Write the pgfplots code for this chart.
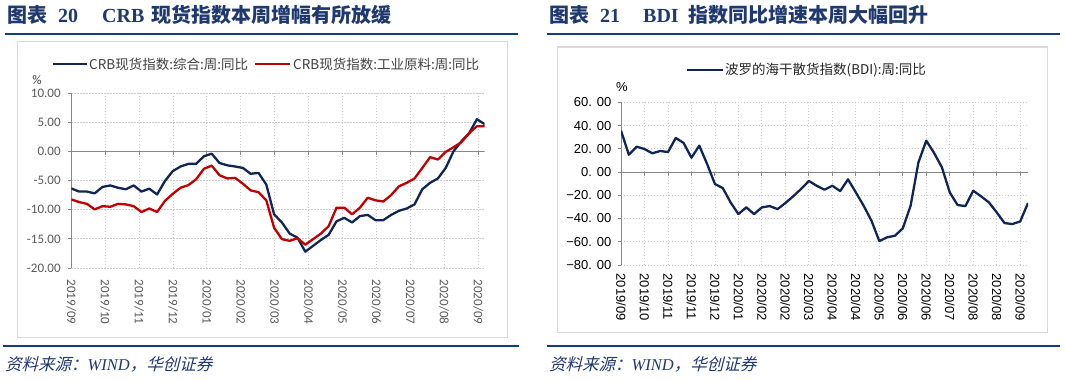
\documentclass[border=0pt]{standalone}
\usepackage{fontspec}
\usepackage{pgfplots}
\usepackage{pgfplotstable}
\pgfplotsset{compat=1.18}
\setmainfont{Liberation Sans}
\newfontfamily\cjk{Noto Sans CJK SC}
\newfontfamily\cjkit[FakeSlant=0.25]{Noto Sans CJK SC}
\newfontfamily\carlito{Carlito}
\newfontfamily\tnr{Liberation Serif}
\definecolor{navy}{RGB}{16,37,86}
\definecolor{crbred}{RGB}{192,0,0}
\definecolor{titleblue}{RGB}{31,56,110}
\definecolor{rulblue}{RGB}{20,60,130}
\definecolor{axisgray}{RGB}{134,134,134}
\definecolor{gridgray}{RGB}{205,205,205}
\definecolor{boxgray}{RGB}{217,217,217}
\definecolor{labgray}{RGB}{89,89,89}
\definecolor{leggray}{RGB}{64,64,64}

\pgfplotstableread{
x b r
0 -6.36 -8.24
1 -6.9 -8.7
2 -6.9 -9.0
3 -7.2 -9.95
4 -6.1 -9.4
5 -5.85 -9.5
6 -6.25 -9.0
7 -6.5 -9.1
8 -5.85 -9.4
9 -6.9 -10.4
10 -6.4 -9.8
11 -7.4 -10.4
12 -5.1 -8.5
13 -3.4 -7.3
14 -2.6 -6.25
15 -2.15 -5.8
16 -2.15 -4.8
17 -0.85 -3.0
18 -0.4 -2.45
19 -2.0 -4.1
20 -2.4 -4.65
21 -2.6 -4.55
22 -2.85 -5.55
23 -3.85 -6.7
24 -3.7 -7.0
25 -5.7 -8.4
26 -10.8 -13.1
27 -12.2 -15.05
28 -14.1 -15.35
29 -14.8 -14.9
30 -17.2 -16.0
31 -16.2 -15.05
32 -15.2 -14.1
33 -14.3 -12.8
34 -12.0 -9.66
35 -11.4 -9.66
36 -12.2 -10.8
37 -11.1 -9.66
38 -10.9 -7.95
39 -11.8 -8.4
40 -11.8 -8.6
41 -10.9 -7.5
42 -10.2 -6.0
43 -9.8 -5.4
44 -9.1 -4.65
45 -6.5 -2.85
46 -5.4 -1.0
47 -4.65 -1.4
48 -2.85 -0.1
49 0.0 0.7
50 1.7 1.55
51 3.1 3.1
52 5.5 4.3
53 4.65 4.3
}\leftdata

\pgfplotstableread{
x v
0 35.6
1 14.9
2 21.8
3 19.8
4 16.1
5 18.1
6 17.2
7 29.3
8 25.0
9 12.3
10 22.7
11 6.9
12 -10.3
13 -13.8
14 -26.1
15 -36.2
16 -30.4
17 -36.2
18 -30.4
19 -29.3
20 -31.9
21 -26.7
22 -20.9
23 -14.6
24 -7.7
25 -11.8
26 -15.2
27 -11.8
28 -16.4
29 -6.3
30 -17.5
31 -29.0
32 -41.9
33 -59.4
34 -56.2
35 -54.8
36 -48.5
37 -29.0
38 8.3
39 27.0
40 16.4
41 4.0
42 -17.5
43 -28.4
44 -29.3
45 -16.1
46 -20.9
47 -26.1
48 -34.7
49 -43.9
50 -44.8
51 -42.5
52 -26.7
}\rightdata

\begin{document}
\begin{tikzpicture}[x=1bp,y=1bp]
\useasboundingbox (0,0) rectangle (1065,380);

% ---------- titles ----------
\begin{scope}[every node/.style={inner sep=0pt, anchor=base west, text=titleblue}]
\node at (7,358) {\cjk\fontsize{20bp}{22bp}\selectfont\bfseries 图表};
\node at (58,358) {\tnr\fontsize{20bp}{22bp}\selectfont\bfseries 20};
\node at (102,358) {\tnr\fontsize{20bp}{22bp}\selectfont\bfseries CRB};
\node at (151,358) {\cjk\fontsize{20bp}{22bp}\selectfont\bfseries 现货指数本周增幅有所放缓};
\node at (549,358) {\cjk\fontsize{20bp}{22bp}\selectfont\bfseries 图表};
\node at (600,358) {\tnr\fontsize{20bp}{22bp}\selectfont\bfseries 21};
\node at (643,358) {\tnr\fontsize{20bp}{22bp}\selectfont\bfseries BDI};
\node at (688,358) {\cjk\fontsize{20bp}{22bp}\selectfont\bfseries 指数同比增速本周大幅回升};
\end{scope}
\draw[rulblue, line width=2.5bp] (5,346) -- (518,346);
\draw[rulblue, line width=2.5bp] (547,346) -- (1060,346);
\draw[rulblue, line width=2.5bp] (3,34) -- (519,34);
\draw[rulblue, line width=2.5bp] (547,34) -- (1060,34);
\node[inner sep=0pt, anchor=west, text=titleblue] at (5,16) {\fontsize{16.5bp}{18bp}\selectfont\cjkit 资料来源：{\tnr\itshape WIND}，华创证券};
\node[inner sep=0pt, anchor=west, text=titleblue] at (549,16) {\fontsize{16.5bp}{18bp}\selectfont\cjkit 资料来源：{\tnr\itshape WIND}，华创证券};

% ---------- boxes ----------
\draw[boxgray, line width=1bp] (17,43) rectangle (507,338);
\draw[boxgray, line width=1bp] (557,48) rectangle (1047,333);

% ---------- left legend ----------
\draw[navy, line width=2.3bp] (53,316) -- (87,316);
\node[inner sep=0pt, anchor=west, text=leggray] at (89,316) {\cjk\fontsize{13.5bp}{15bp}\selectfont CRB现货指数:综合:周:同比};
\draw[crbred, line width=2.3bp] (255,316) -- (290,316);
\node[inner sep=0pt, anchor=west, text=leggray] at (293,316) {\cjk\fontsize{13.5bp}{15bp}\selectfont CRB现货指数:工业原料:周:同比};
\node[inner sep=0pt, text=leggray] at (37,300) {\carlito\fontsize{13bp}{15bp}\selectfont\%};

% ---------- right legend ----------
\draw[navy, line width=2.3bp] (687,310) -- (723,310);
\node[inner sep=0pt, anchor=west, text=black!85] at (725,310) {\cjk\fontsize{13.5bp}{15bp}\selectfont 波罗的海干散货指数(BDI):周:同比};
\node[inner sep=0pt, text=black] at (622,293) {\fontsize{13bp}{15bp}\selectfont\%};

% ---------- left chart ----------
\begin{axis}[
  at={(71.3bp,112bp)}, anchor=south west,
  scale only axis, width=413.4bp, height=175bp,
  xmin=0, xmax=53, ymin=-20, ymax=10,
  axis x line*=bottom, axis y line*=left,
  x axis line style={draw=none},
  y axis line style={draw=axisgray, line width=0.9bp, -},
  xtick={0,4.346,8.692,13.038,17.384,21.73,26.076,30.422,34.768,39.114,43.46,47.806,52.152},
  xticklabels={2019/09,2019/10,2019/11,2019/12,2020/01,2020/02,2020/03,2020/04,2020/05,2020/06,2020/07,2020/08,2020/09},
  xtick style={draw=none},
  ytick={-20,-15,...,10},
  yticklabels={-20.00,-15.00,-10.00,-5.00,0.00,5.00,10.00},
  ytick style={draw=axisgray, line width=0.9bp},
  tick align=outside, major tick length=3.5bp,
  xmajorgrids, ymajorgrids,
  major grid style={draw=gridgray, line width=0.8bp, dash pattern=on 1.2bp off 1.8bp},
  yticklabel style={font=\carlito\fontsize{13bp}{15bp}\selectfont, text=labgray, anchor=east, inner sep=0pt},
  yticklabel shift=7bp,
  xticklabel style={font=\carlito\fontsize{13bp}{15bp}\selectfont, text=labgray, rotate=-90, anchor=west, inner sep=0pt},
  xticklabel shift=8bp,
]
\draw[axisgray, line width=0.9bp] (axis cs:0,0) -- (axis cs:53,0);
\pgfplotsinvokeforeach{0,4.346,8.692,13.038,17.384,21.73,26.076,30.422,34.768,39.114,43.46,47.806,52.152}{
  \draw[axisgray, line width=0.9bp] (axis cs:#1,0) -- (axis cs:#1,-0.6);
}
\addplot[navy, line width=2.3bp, line join=round, no markers] table[x=x, y=b] {\leftdata};
\addplot[crbred, line width=2.3bp, line join=round, no markers] table[x=x, y=r] {\leftdata};
\end{axis}

% ---------- right chart ----------
\begin{axis}[
  at={(621bp,115bp)}, anchor=south west,
  scale only axis, width=407bp, height=162.7bp,
  xmin=0, xmax=52, ymin=-80, ymax=60,
  axis x line*=bottom, axis y line*=left,
  x axis line style={draw=none},
  y axis line style={draw=axisgray, line width=0.9bp, -},
  xtick={0,3,...,51},
  xticklabels={2019/09,2019/10,2019/11,2019/11,2019/12,2020/01,2020/02,2020/02,2020/03,2020/04,2020/04,2020/05,2020/06,2020/06,2020/07,2020/08,2020/08,2020/09},
  xtick style={draw=none},
  ytick={-80,-60,...,60},
  yticklabels={−80. 00,−60. 00,−40. 00,−20. 00,0. 00,20. 00,40. 00,60. 00},
  ytick style={draw=axisgray, line width=0.9bp},
  tick align=outside, major tick length=3.5bp,
  xmajorgrids, ymajorgrids,
  major grid style={draw=gridgray, line width=0.8bp, dash pattern=on 1.2bp off 1.8bp},
  yticklabel style={font=\fontsize{13bp}{15bp}\selectfont, text=black, anchor=east, inner sep=0pt},
  yticklabel shift=6bp,
  xticklabel style={font=\fontsize{13bp}{15bp}\selectfont, text=black, rotate=-90, anchor=west, inner sep=0pt},
  xticklabel shift=5bp,
]
\draw[axisgray, line width=0.9bp] (axis cs:0,0) -- (axis cs:52,0);
\pgfplotsinvokeforeach{0,3,...,51}{
  \draw[axisgray, line width=0.9bp] (axis cs:#1,0) -- (axis cs:#1,-3);
}
\addplot[navy, line width=2.3bp, line join=round, no markers] table[x=x, y=v] {\rightdata};
\end{axis}
\end{tikzpicture}
\end{document}
